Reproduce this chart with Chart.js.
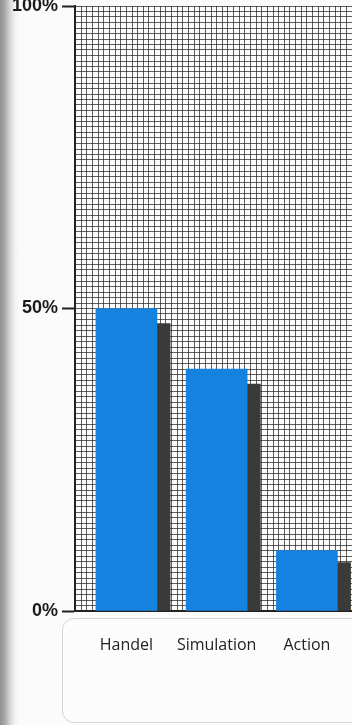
<!DOCTYPE html>
<html>
<head>
<meta charset="utf-8">
<script src="https://cdn.jsdelivr.net/npm/chart.js@4/dist/chart.umd.min.js"></script>
<style>
  html, body { margin: 0; padding: 0; }
  body {
    width: 352px; height: 725px; overflow: hidden; position: relative;
    background: linear-gradient(to right, #8f8f8f 0px, #a9a9a9 5px, #d6d6d6 10px, #f3f3f3 15px, #fbfbfb 20px);
  }
  #labelBox {
    position: absolute; left: 62px; top: 618px; width: 310px; height: 103px;
    border: 1.5px solid #d4d4d4; border-radius: 12px; background: #fcfcfc;
  }
  #wrap { position: absolute; left: 0; top: 0; width: 352px; height: 725px; }
</style>
</head>
<body>
<div id="labelBox"></div>
<div id="wrap"><canvas id="myChart"></canvas></div>
<script>
// categories and values (percent)
var categories = ['Handel', 'Simulation', 'Action'];
var blueValues = [50, 40, 10];
var shadowValues = [47.5, 37.5, 8];
var yTickLabels = ['0%', '50%', '100%'];

document.addEventListener('DOMContentLoaded', function() {
    var ctx = document.getElementById('myChart').getContext('2d');

    var blueData = blueValues.map(function(v, i) { return { x: i, y: v }; });
    var shadowData = shadowValues.map(function(v, i) { return { x: i + 0.34, y: v }; });

    new Chart(ctx, {
        type: 'bar',
        data: {
            datasets: [
                {
                    label: 'Anteil',
                    data: blueData,
                    backgroundColor: 'rgb(22, 130, 224)',
                    barThickness: 61,
                    grouped: false,
                },
                {
                    label: 'Schatten',
                    data: shadowData,
                    backgroundColor: 'rgb(58, 58, 58)',
                    barThickness: 26,
                    grouped: false,
                },
            ],
        },
        options: {
            responsive: true,
            maintainAspectRatio: false,
            animation: false,
            layout: { padding: 0 },
            plugins: { legend: { display: false }, tooltip: { enabled: false } },
            scales: {
                x: {
                    type: 'linear',
                    min: -0.57,
                    max: 2.5,
                    offset: false,
                    afterBuildTicks: function(scale) {
                        var t = [];
                        for (var k = Math.ceil(-0.57 * 16); k <= Math.floor(2.5 * 16); k++) t.push({ value: k / 16 });
                        scale.ticks = t;
                    },
                    afterFit: function(scale) {
                        scale.height = 114;
                        scale.paddingLeft = 0;
                        scale.paddingRight = 0;
                    },
                    grid: { offset: false, color: 'rgba(35,35,35,0.72)', lineWidth: 1, drawTicks: false },
                    border: { color: '#222', width: 2 },
                    ticks: {
                        autoSkip: false, maxRotation: 0, padding: 25,
                        color: '#222',
                        font: { family: '"Open Sans"', size: 16 },
                        callback: function(value) {
                            var k = Math.round(value * 16);
                            return k % 16 === 0 ? categories[k / 16] : '';
                        },
                    },
                },
                y: {
                    min: 0,
                    max: 100,
                    afterBuildTicks: function(scale) {
                        var t = [];
                        for (var k = 0; k <= 110; k++) t.push({ value: k * 100 / 110 });
                        scale.ticks = t;
                    },
                    afterFit: function(scale) {
                        scale.width = 75;
                        scale.paddingTop = 6;
                        scale.paddingBottom = 0;
                    },
                    grid: {
                        color: 'rgba(35,35,35,0.72)', lineWidth: 1, tickLength: 13, tickWidth: 2,
                        tickColor: function(c) { return c.tick && c.tick.label ? '#222' : 'rgba(0,0,0,0)'; },
                    },
                    border: { color: '#222', width: 2 },
                    ticks: {
                        autoSkip: false, padding: 4,
                        color: '#1b1b1b',
                        font: { family: '"Liberation Sans", Arial', size: 18, weight: 'bold' },
                        callback: function(value, index) {
                            if (index % 55 !== 0) return '';
                            return yTickLabels[index / 55];
                        },
                    },
                },
            },
        },
    });
});
</script>
</body>
</html>
